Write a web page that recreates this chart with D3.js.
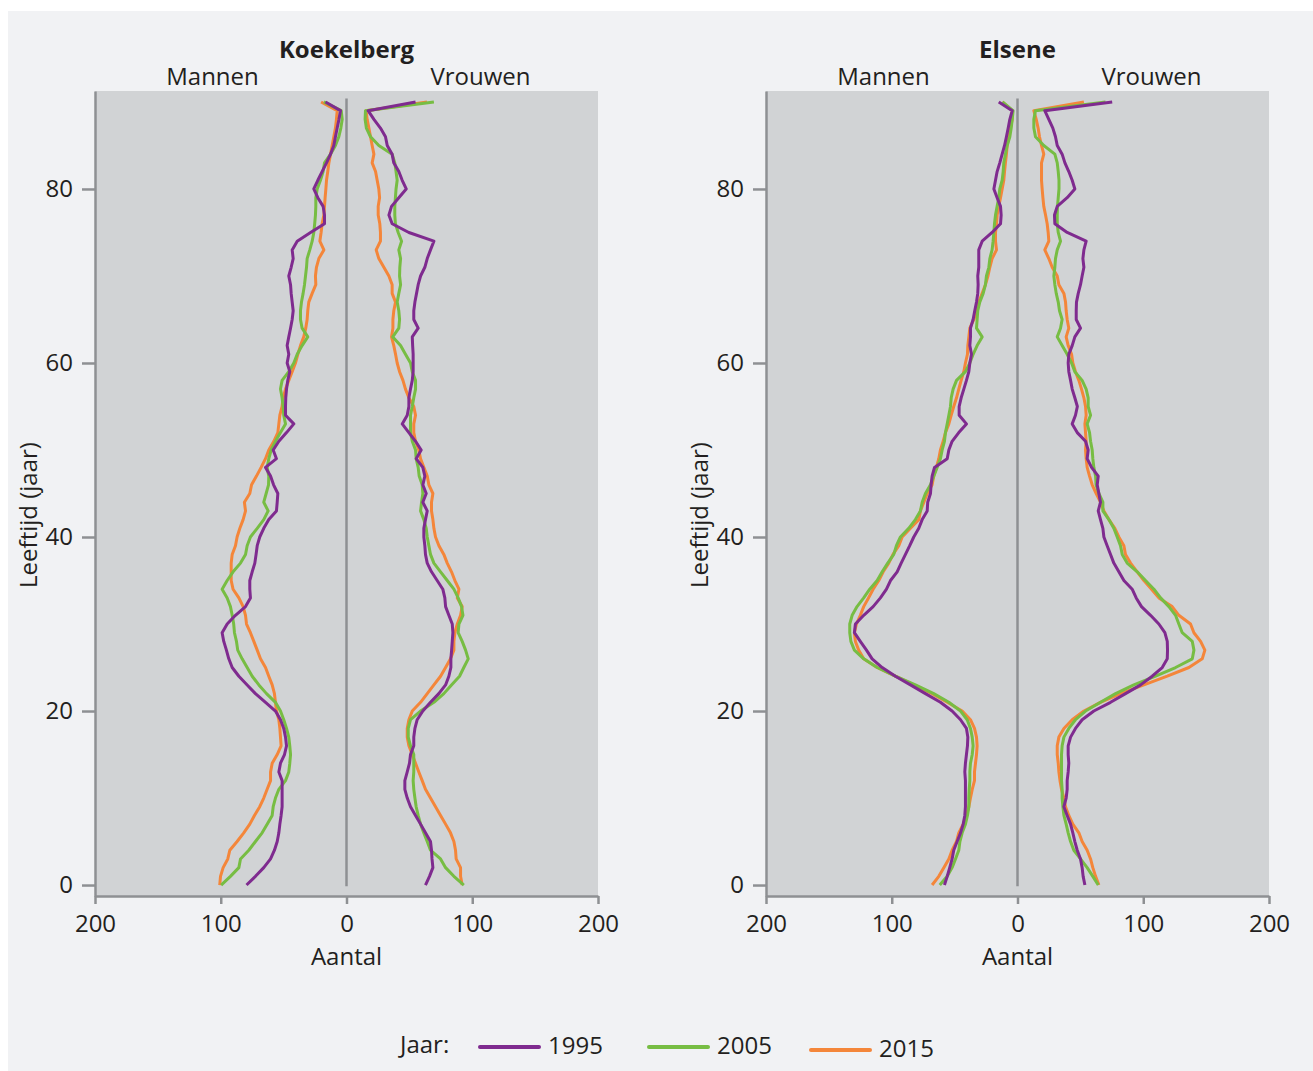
<!DOCTYPE html>
<html lang="nl">
<head>
<meta charset="utf-8">
<title>Bevolkingspiramides Koekelberg en Elsene</title>
<script src="https://cdn.jsdelivr.net/npm/d3@7"></script>
<style>
  html, body { margin: 0; padding: 0; background: #ffffff; }
  svg { display: block; }
  text { font-family: "Open Sans", "Noto Sans", sans-serif; fill: #231f20; }
</style>
</head>
<body>
<svg id="chart" width="1313" height="1071"></svg>
<script>
// Leeftijden 0..90 (90 = 90 jaar en ouder)
const ages = d3.range(0, 91);
const years = ["1995", "2005", "2015"];
const yearColors = ["#7f2b8f", "#77bd43", "#f4863a"];
const communes = ["Koekelberg", "Elsene"];
const sexLabels = ["Mannen", "Vrouwen"];
const xTickValues = [-200, -100, 0, 100, 200];
const yTickValues = [0, 20, 40, 60, 80];

// Koekelberg, mannen (aantal per leeftijd 0..90)
const koekelbergMen1995 = [79.5,72.4,65.8,60.4,57.3,55.1,53.8,53,52,51.2,51.2,51.2,51.2,53.8,52.5,49.3,47.7,48.5,49.9,52.5,56.5,64.4,72.4,79,85.6,90.9,93.6,95.5,97.6,98.9,94.9,88.3,80.3,76.4,76.9,76.9,75,72.9,71.9,71,69,65.8,61.8,55.7,55.1,54.6,58,60.4,64.4,55.7,58.3,53.8,47.7,41.9,48.5,48.5,48.3,47.7,46.7,45.1,47.2,45.9,47.2,45.9,44.5,43.2,42.4,43.2,44,44.5,45.9,44,42.4,43.2,39.2,28.6,17.5,17.5,18.6,22.8,26,22.8,19.4,15.9,12.7,10.1,8.8,7.4,6,4.8,16.7];
const koekelbergMen2005 = [99.7,92.3,85.6,84.3,77.7,72.4,67.1,63.1,59.1,58.3,56.5,53.8,48.5,45.9,45.1,44.5,45.1,45.9,47.7,49.9,52.5,56.5,63.6,69.7,75,79,83,86.5,87.5,89.1,89.7,90.9,92.3,94.9,98.9,94.9,90.2,84.3,80.3,79,76.4,71,65.8,62.3,65.8,63.9,62,61.8,63.1,61.8,59.9,56.5,52.5,48.5,49.9,50.4,51.2,52.5,51.2,45.9,41.9,39.2,35.3,30.8,35.3,36.6,36.6,35.8,34.5,33.4,32.6,31.8,31.3,29.2,27.3,26,25.3,24.7,24.4,24.4,23.3,20.7,18.6,17.5,12.7,8.8,6.1,4.5,3.4,4.2,18];
const koekelbergMen2015 = [100.8,100.2,98.1,94.4,92.8,87,81.7,76.9,73.2,69,65.8,63.1,60.4,60.4,59.1,55.1,52,52.5,53,53.8,55.7,56.5,57.3,59.1,61.8,64.4,68.4,71,73.7,76.4,79.5,80.3,82.2,85.6,90.2,91.7,91.7,91.7,90.9,88.3,87,84.8,82.2,80.3,81.2,76.9,75.5,71.6,67.9,64.4,61.8,57.8,54.6,53.8,53,51.2,50.4,48.5,45.9,43.2,40.6,38.7,36.6,34,32.4,31.3,30.8,30,27.3,24.4,24.7,23.9,22,18,21.2,20.2,19.4,18,17.5,17,16.4,15.9,14.9,14,12.7,11.4,10.1,8.8,8,7.4,20.2];

// Koekelberg, vrouwen
const koekelbergWomen1995 = [62.8,66,68.7,68,67.6,66.8,62.8,58.9,54.9,50.9,48.3,46.4,46.4,48.3,50.1,50.9,53.5,53.5,54.4,56.2,60.7,66.8,73.4,78.8,81.4,83,83,83.6,84.1,84.6,84.1,81.4,78.8,78.2,76.6,72.1,67.6,64.2,62.8,62.3,61.5,61.5,62.8,64.2,60.7,63.4,60.7,62.3,60.7,55.4,59.4,54.9,49.6,44.3,48.3,49.6,49.6,50.9,52.3,53,53,53,52.6,52.3,57,53.5,53.5,54.4,55.7,57,58.9,62.3,64.2,66.8,69.5,49.6,36.3,33.7,35.8,41.6,47.5,44.3,41.6,37.6,36.3,32.4,31,27,21.8,17.2,54.9];
const koekelbergWomen2005 = [93.3,85.4,78.8,74.8,66.8,64.2,61.5,58.9,57,55.4,54.4,53.5,53,53.5,53.5,53.5,50.9,49.1,49.1,50.9,58.9,69.5,77.4,83.5,89.9,93.3,96.8,94.7,92,88.8,89.4,92.6,91.5,88.8,85.4,80.1,74.8,69.5,66.8,65.5,64.2,63.4,61.5,58.9,59.7,60.7,60.2,57.8,57,55.4,54.9,52.3,50.9,50.9,50.9,52.3,53.5,54.9,54.9,52.3,50.9,46.9,43,36.8,41.6,42.2,41.6,40.3,41.6,43,42.2,42.4,43,41.6,43.8,41.1,38.9,38.4,38.4,38.9,39.4,40.3,39.4,38.4,36.3,25.7,19.1,15.8,14.8,15.1,69.5];
const koekelbergWomen2015 = [92,90.7,90.7,87.2,86.7,85.4,82.7,78.8,74.8,70.8,66.8,62.8,60.2,57.5,54.9,52.3,49.6,48.3,48.3,49.6,52.3,58.9,64.2,69.5,74.8,78.8,82.7,85.4,85.4,86.2,88.1,90.7,92,88.1,89.4,86.2,83.5,80.1,77.4,73.5,70.8,69.5,68.7,67.6,67.6,68.7,65.5,64.2,61.5,58.9,57.5,54.9,53.5,53.5,54.9,53.5,49.6,46.9,44.9,42.2,40.3,39,37.6,35.8,36.9,36.9,37.6,39,36.3,36.3,33.7,29.7,25.7,23.6,27,27,26.5,25.2,25.2,26.3,25.7,24.4,23.1,20.4,21.8,20.4,19.1,17.8,16.4,15.6,64];

// Elsene, mannen
const elseneMen1995 = [58.1,55.9,53.9,52,50.7,48,45.3,43.2,41.9,41.4,41.4,41.4,41.4,41.9,41.4,40.6,39.8,39.5,40.6,45.3,52,61.3,73.2,85.1,97.1,107.6,115.6,120.1,125,129.7,128.9,122.3,114.8,109,104.2,101,95.7,92.5,89.1,85.7,82.5,78.5,75.8,71.8,71.4,69.2,68.7,67.9,66,55.9,54.6,52,46.7,40.6,46.4,46.4,44.8,42.7,40.6,38.7,37.9,36.6,37.9,37.4,37.4,35.3,34,32.6,31.6,31.3,31.6,30.8,30.8,30.8,28.1,20.2,13.5,13,13.5,16.2,18.8,17.5,16.2,14.1,12.2,10.3,8.8,7.4,6.1,4.2,14.9];
const elseneMen2005 = [61.8,55.9,52,49.3,46.7,45.8,44,41.4,39.8,38.7,38.7,38.4,37.9,37.9,37.4,36,35.3,36,37.4,40,45.3,54.6,66.6,81.2,97.1,111.6,122.3,129.7,132.5,133.4,133.4,131.5,127.6,122.3,117.5,111.6,107.6,103.2,98.4,96.3,93.1,86.5,81.2,77.2,75.8,73.2,69.2,66.6,63.9,61.3,59.9,58.1,57.3,55.9,54.6,53.3,52.7,51.2,48.5,41.4,37.9,35.3,32.1,28.1,32.6,32.1,31.6,30,27.3,25.5,24.7,22.8,22,20.2,19.4,18.8,18.3,17.5,16.2,14.9,14.1,12.2,11.4,10.9,9.6,8.2,6.1,5,4.2,3.5,12];
const elseneMen2015 = [67.9,62.6,58.6,54.6,52,48.5,46.7,43.2,40.6,38.7,37.4,36,34.2,34.2,33.4,32.6,32.1,32.6,34.2,37.4,44,55.9,67.9,82.5,97.1,111.6,122.3,126.3,128.9,129.7,128.1,125,122.3,118.5,114.8,110.3,106.8,102.4,99,94.4,91.7,85.1,78.5,77.2,74.5,71.8,67.9,66.6,64.5,62.6,61.3,59.1,57.3,54.6,52.7,50.7,48.5,46.7,44.8,42.7,41.4,39.8,39.5,38.7,37.9,34.7,32.6,30.8,28.1,25.5,23.5,22,20.2,16.7,17.5,17.5,16.7,16.2,14.9,13.5,12.2,10.9,10.3,9.6,8.8,8.2,6.9,5.6,4.2,4.2,12];

// Elsene, vrouwen
const elseneWomen1995 = [53.6,52.2,51.4,50.1,47.5,45.6,44,42.2,39.5,36.9,38.7,39.5,39.5,40.3,40.8,40.3,40.3,42.2,46.1,51.4,60.7,74,85.9,97.9,107.1,115.1,119.1,119.3,119.1,117.2,112.4,105.8,98.6,94.4,91.2,84.6,80.6,76.6,74,71.3,68.7,67.9,66,64.2,66,64.7,63.4,64.2,58.9,55.4,56.2,54.1,47.5,43.5,46.1,47.6,45.6,43.5,42.2,40.8,40.3,40.8,43.5,45.6,50.1,46.7,46.7,46.9,48.3,50.1,51.4,52.8,52,52.8,54.6,39.5,29.7,29.4,31.6,39.5,45.6,43.5,40.8,37.7,35.5,31.6,30.2,28.1,24.9,21.7,75.3];
const elseneWomen2005 = [64.2,59.9,55.4,50.1,44.8,42.2,40.3,38.7,36.9,36.1,35.5,35.5,35,35,35,35,35.5,36.9,40.8,46.1,54.1,66,78,92.5,109.8,125.7,139,140.3,139,131,128.3,125.7,120.4,113.8,108.5,101.8,95.2,87.2,83.3,81.9,79.3,76.6,72.7,67.9,67.9,64.7,62.5,62.1,60.7,59.9,59.4,58.1,57.3,55.4,58.1,56.2,56.2,54.6,51.4,45.6,43,39.5,35.5,31.6,34.2,35.5,33.4,32.4,30.8,29.7,28.9,29.7,30.2,31.6,34.2,32.4,31.6,31.6,31.8,32.4,33,33,32.4,31.6,29.7,20.9,14.3,13,13,14.3,70];
const elseneWomen2015 = [64.7,62.1,59.9,58.1,55.4,51.4,48.8,44,40.8,38.2,36.9,35,33.8,32.9,32.4,31.6,31.6,32.9,36.9,43.5,52.8,66,81.9,100.5,119.1,136.3,146.9,149,145.6,140.3,137.6,128.3,123,112.4,106.6,100.5,95.2,89.9,85.9,84.6,80.6,77.4,72.7,68.7,66,62.6,59.4,57.3,55.4,54.6,54.1,54.6,54.1,53.6,54.6,54.1,52.8,50.9,48.8,46.1,44,43,40.3,38.7,40.8,39.5,38.7,38.2,36.9,32.9,31.6,27.6,24.9,21.7,24.9,24.4,23.6,22.3,20.9,20.2,19.6,19.1,19.1,19.1,20.9,19.1,17.5,16.4,14.9,13,52.8];

const menSeries = [
  [koekelbergMen1995, koekelbergMen2005, koekelbergMen2015],
  [elseneMen1995, elseneMen2005, elseneMen2015]
];
const womenSeries = [
  [koekelbergWomen1995, koekelbergWomen2005, koekelbergWomen2015],
  [elseneWomen1995, elseneWomen2005, elseneWomen2015]
];

const svg = d3.select("#chart");
const axisColor = "#8e9093";

// lichtgrijze achtergrond van de figuur
svg.append("rect")
  .attr("x", 8).attr("y", 11)
  .attr("width", 1305).attr("height", 1060)
  .attr("fill", "#f1f2f4");

const panelLeft = [95, 766];
const panelWidth = 503;
const plotTop = 91, plotBottom = 896;

communes.forEach((name, p) => {
  const x = d3.scaleLinear().domain([-200, 200]).range([panelLeft[p], panelLeft[p] + panelWidth]);
  const y = d3.scaleLinear().domain([-1.26, 91.26]).range([plotBottom, plotTop]);
  const g = svg.append("g");

  // plotgebied
  g.append("rect")
    .attr("x", x(-200)).attr("y", plotTop)
    .attr("width", x(200) - x(-200)).attr("height", plotBottom - plotTop)
    .attr("fill", "#d1d3d5");

  // nullijn tussen mannen en vrouwen
  g.append("line")
    .attr("x1", x(0)).attr("x2", x(0))
    .attr("y1", y(-0.15)).attr("y2", y(90.4))
    .attr("stroke", axisColor).attr("stroke-width", 2.5);

  // x-as
  const xAxis = g.append("g")
    .attr("transform", `translate(0,${plotBottom})`)
    .call(d3.axisBottom(x).tickValues(xTickValues)
      .tickFormat(d => Math.abs(d)).tickSize(8).tickSizeOuter(0).tickPadding(11));

  // y-as
  const yAxis = g.append("g")
    .attr("transform", `translate(${x(-200)},0)`)
    .call(d3.axisLeft(y).tickValues(yTickValues).tickSize(13).tickSizeOuter(0).tickPadding(9));

  [xAxis, yAxis].forEach(a => {
    a.select(".domain").attr("stroke", axisColor).attr("stroke-width", 2.5);
    a.selectAll(".tick line").attr("stroke", axisColor).attr("stroke-width", 2.5);
    a.selectAll(".tick text")
      .attr("fill", "#231f20")
      .style("font-family", '"Open Sans", sans-serif')
      .style("font-size", "24px");
  });

  // lijnen per jaar, 2015 onderaan en 1995 bovenaan
  const menLine = d3.line().x((v) => x(-v)).y((v, i) => y(ages[i]));
  const womenLine = d3.line().x((v) => x(v)).y((v, i) => y(ages[i]));
  [2, 1, 0].forEach(k => {
    g.append("path")
      .attr("d", menLine(menSeries[p][k]))
      .attr("fill", "none").attr("stroke", yearColors[k])
      .attr("stroke-width", 3).attr("stroke-linejoin", "round");
    g.append("path")
      .attr("d", womenLine(womenSeries[p][k]))
      .attr("fill", "none").attr("stroke", yearColors[k])
      .attr("stroke-width", 3).attr("stroke-linejoin", "round");
  });

  // titels
  g.append("text")
    .attr("x", x(0)).attr("y", 58)
    .attr("text-anchor", "middle")
    .style("font-size", "24px").style("font-weight", "700")
    .text(name);
  g.append("text")
    .attr("x", x(0) - 134).attr("y", 85)
    .attr("text-anchor", "middle").style("font-size", "24px")
    .text(sexLabels[0]);
  g.append("text")
    .attr("x", x(0) + 134).attr("y", 85)
    .attr("text-anchor", "middle").style("font-size", "24px")
    .text(sexLabels[1]);

  // astitels
  g.append("text")
    .attr("x", x(0)).attr("y", 965)
    .attr("text-anchor", "middle").style("font-size", "24px")
    .text("Aantal");
  g.append("text")
    .attr("transform", `translate(${x(-200) - 58},${515}) rotate(-90)`)
    .attr("text-anchor", "middle").style("font-size", "24px")
    .text("Leeftijd (jaar)");
});

// legenda
const legend = svg.append("g");
legend.append("text")
  .attr("x", 400).attr("y", 1053)
  .style("font-size", "24px")
  .text("Jaar:");
const legendLineX = [480, 649, 811];
const legendLineY = [1047, 1047, 1050];
years.forEach((yr, k) => {
  legend.append("line")
    .attr("x1", legendLineX[k]).attr("x2", legendLineX[k] + 59)
    .attr("y1", legendLineY[k]).attr("y2", legendLineY[k])
    .attr("stroke", yearColors[k]).attr("stroke-width", 4)
    .attr("stroke-linecap", "round");
  legend.append("text")
    .attr("x", legendLineX[k] + 68).attr("y", legendLineY[k] + 7)
    .style("font-size", "24px")
    .text(yr);
});
</script>
</body>
</html>
